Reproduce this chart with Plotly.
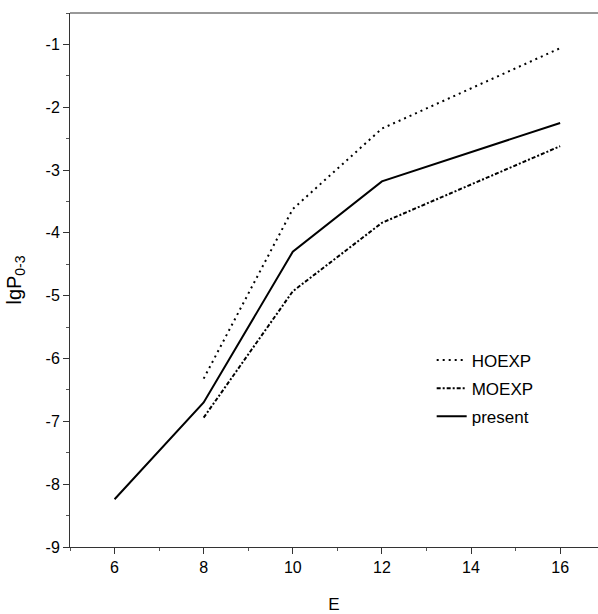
import plotly.graph_objects as go

E_present = [6, 8, 10, 12, 16]
lgP_present = [-8.24, -6.70, -4.30, -3.18, -2.25]

E_hoexp = [8, 10, 12, 16]
lgP_hoexp = [-6.32, -3.62, -2.34, -1.06]

E_moexp = [8, 10, 12, 16]
lgP_moexp = [-6.94, -4.93, -3.84, -2.62]

x_ticks = [6, 8, 10, 12, 14, 16]
y_ticks = [-9, -8, -7, -6, -5, -4, -3, -2, -1]

FONT = "Liberation Sans, Arial, sans-serif"

fig = go.Figure()
fig.add_trace(go.Scatter(x=E_hoexp, y=lgP_hoexp, mode="lines", name="HOEXP",
                         legendgroup="a",
                         line=dict(color="black", width=2, dash="2px,4px")))
fig.add_trace(go.Scatter(x=E_moexp, y=lgP_moexp, mode="lines", name="MOEXP",
                         legendgroup="b",
                         line=dict(color="black", width=2, dash="4px,2px,2px,2px")))
fig.add_trace(go.Scatter(x=E_present, y=lgP_present, mode="lines", name="present",
                         legendgroup="c",
                         line=dict(color="black", width=2)))

axis_common = dict(
    showgrid=False, zeroline=False, showline=True, linecolor="#333333", linewidth=1,
    ticks="outside", ticklen=6, tickwidth=1, tickcolor="#333333",
    tickfont=dict(family=FONT, size=16, color="black"),
    minor=dict(ticks="outside", ticklen=3, tickcolor="#555555", tickwidth=1),
)

fig.update_layout(
    width=598, height=614,
    margin=dict(l=70, r=0, t=13, b=64),
    paper_bgcolor="white", plot_bgcolor="white",
    showlegend=True,
    legend=dict(x=0.685, y=0.383, xanchor="left", yanchor="top",
                bgcolor="rgba(0,0,0,0)", font=dict(family=FONT, size=17, color="black"),
                traceorder="grouped", tracegroupgap=3),
    xaxis=dict(range=[5, 16.85], tickvals=x_ticks, mirror=False,
               title=dict(text="E", font=dict(family=FONT, size=17, color="black"), standoff=26),
               **axis_common),
    yaxis=dict(range=[-9, -0.5], tickvals=y_ticks,
               ticktext=[str(v) for v in y_ticks],
               title=dict(text="lgP<sub>0-3</sub>", font=dict(family=FONT, size=20, color="black"), standoff=18),
               **axis_common),
)
fig.update_xaxes(minor=dict(dtick=1, tick0=5))
fig.update_yaxes(minor=dict(dtick=0.5, tick0=-9))
# top frame line
fig.add_shape(type="line", xref="paper", yref="paper", x0=0, x1=1, y0=1, y1=1,
              line=dict(color="#333333", width=1))

fig.write_html("out.html")
